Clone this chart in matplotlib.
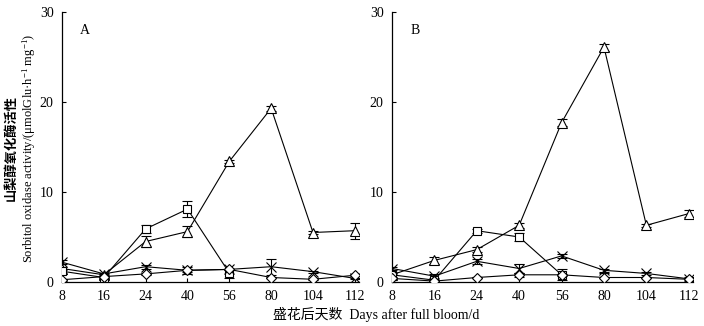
import numpy as np
import matplotlib
matplotlib.use("Agg")
import matplotlib.pyplot as plt

plt.rcParams['font.family'] = ['Liberation Serif', 'Noto Sans CJK SC']
plt.rcParams['mathtext.fontset'] = 'custom'
plt.rcParams['mathtext.rm'] = 'Liberation Serif'
plt.rcParams['mathtext.it'] = 'Liberation Serif:italic'

days = ['8', '16', '24', '40', '56', '80', '104', '112']

# Panel A
triA = [1.5, 0.8, 4.5, 5.6, 13.4, 19.3, 5.5, 5.7]
triA_err = [0.2, 0.1, 0.6, 0.6, 0.2, 0.3, 0.2, 0.9]
sqA = [1.2, 0.5, 5.9, 8.1, 1.0, np.nan, np.nan, np.nan]
sqA_err = [0.3, 0.2, 0.4, 0.9, 0.5, 0, 0, 0]
xA = [2.2, 0.9, 1.7, 1.3, 1.4, 1.7, 1.15, 0.4]
xA_err = [0.2, 0.1, 0.2, 0.4, 0.1, 0.9, 0.1, 0.1]
diaA = [0.25, 0.6, 0.9, 1.3, 1.4, 0.5, 0.3, 0.75]
diaA_err = [0.1, 0.1, 0.1, 0.2, 0.1, 0.1, 0.1, 0.1]

# Panel B
triB = [0.8, 2.4, 3.6, 6.3, 17.7, 26.1, 6.3, 7.6]
triB_err = [0.2, 0.4, 0.3, 0.3, 0.4, 0.4, 0.2, 0.4]
sqB = [0.8, 0.2, 5.7, 5.0, 0.8, np.nan, np.nan, np.nan]
sqB_err = [0.3, 0.1, 0.2, 0.4, 0.6, 0, 0, 0]
xB = [1.5, 0.65, 2.3, 1.5, 2.9, 1.3, 0.95, 0.35]
xB_err = [0.2, 0.2, 0.3, 0.5, 0.2, 0.2, 0.2, 0.2]
diaB = [0.4, 0.1, 0.5, 0.8, 0.8, 0.5, 0.5, 0.3]
diaB_err = [0.1, 0.1, 0.1, 0.2, 0.1, 0.5, 0.1, 0.1]

fig = plt.figure(figsize=(7.04, 3.26), dpi=100)
axA = fig.add_axes([62/704, 44/326, 297/704, 270/326])
axB = fig.add_axes([392/704, 44/326, 301/704, 270/326])

x = np.arange(len(days))

def draw(ax, series, letter):
    for vals, errs, mk in series:
        vals = np.array(vals, dtype=float)
        m = ~np.isnan(vals)
        size = {'^': 7, 's': 6, 'x': 6.5, 'D': 5}[mk]
        ax.errorbar(x[m], vals[m], yerr=np.array(errs)[m], color='black',
                    lw=0.8, elinewidth=0.8, capsize=3.5, capthick=0.8,
                    marker=mk, ms=size, mfc='white',
                    mec='black', mew=0.8, zorder=3)
    ax.set_xlim(0, 7.1)
    ax.set_ylim(0, 30)
    ax.set_xticks(x)
    ax.set_xticklabels(days)
    ax.set_yticks([0, 10, 20, 30])
    for s in ['top', 'right']:
        ax.spines[s].set_visible(False)
    ax.spines['left'].set_linewidth(0.9)
    ax.spines['bottom'].set_linewidth(0.9)
    ax.tick_params(direction='in', length=3, width=0.8, labelsize=10, pad=6)
    ax.text(0.55, 27.9, letter, fontsize=10, ha='center', va='center')

draw(axA, [(triA, triA_err, '^'), (sqA, sqA_err, 's'), (xA, xA_err, 'x'), (diaA, diaA_err, 'D')], 'A')
draw(axB, [(triB, triB_err, '^'), (sqB, sqB_err, 's'), (xB, xB_err, 'x'), (diaB, diaB_err, 'D')], 'B')

fig.text(11/704, 1 - 148/326, '山梨醇氧化酶活性', rotation=90, ha='center', va='center',
         fontsize=9.5, fontweight='bold', family=['Noto Sans CJK SC'])
fig.text(29/704, 1 - 148/326, 'Sorbitol oxidase activity/(μmolGlu·h$^{-1}$ mg$^{-1}$)',
         rotation=90, ha='center', va='center', fontsize=9)
fig.text(376/704, 1 - 314/326, '盛花后天数  Days after full bloom/d', ha='center', va='center',
         fontsize=10)

fig.savefig('out.png', dpi=100)
